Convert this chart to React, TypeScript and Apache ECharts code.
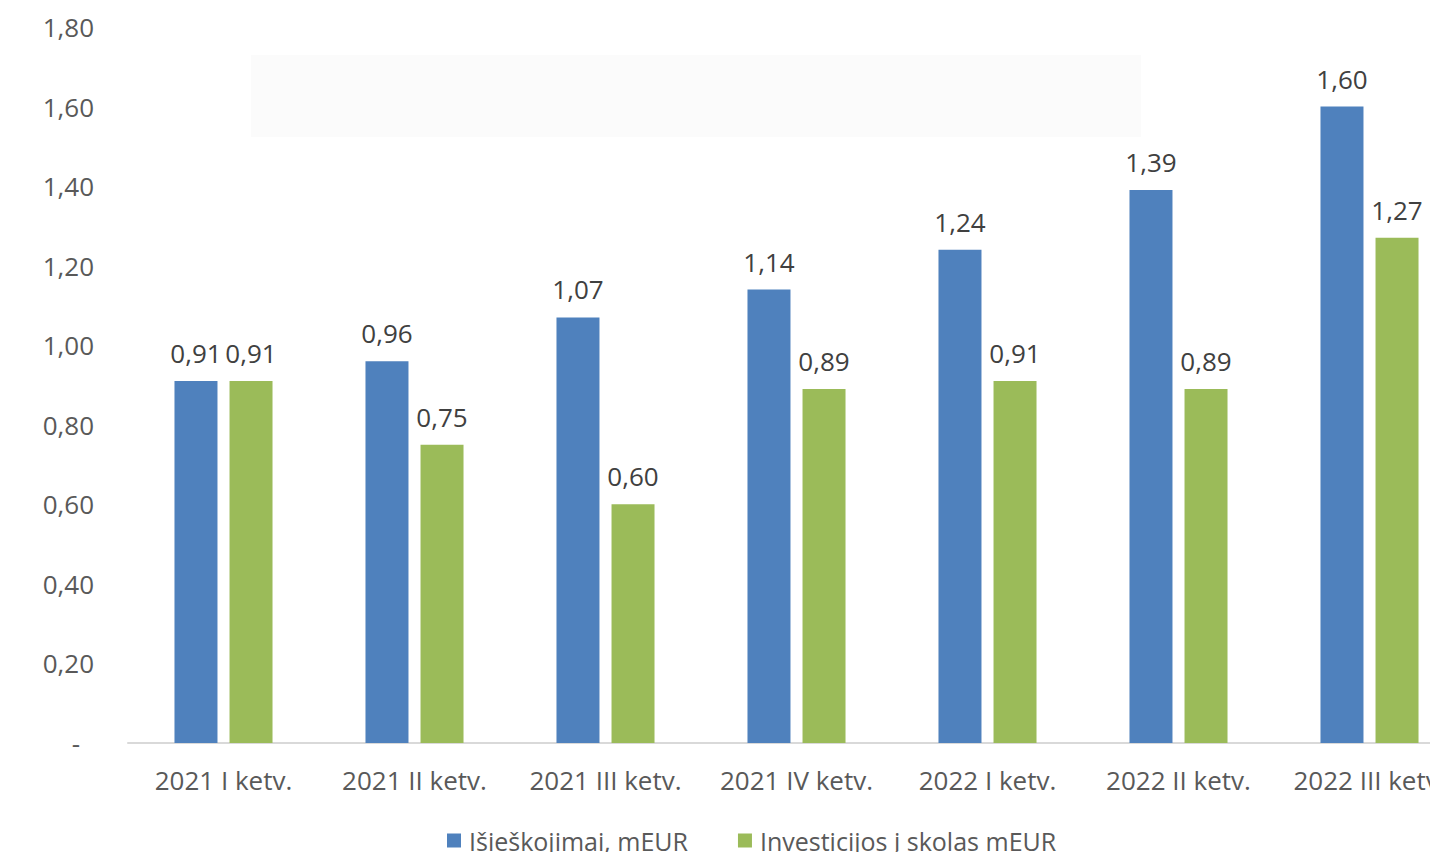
import React, { useEffect, useRef } from "react";
import * as echarts from "echarts";

const categories = [
  "2021 I ketv.",
  "2021 II ketv.",
  "2021 III ketv.",
  "2021 IV ketv.",
  "2022 I ketv.",
  "2022 II ketv.",
  "2022 III ketv.",
];
const seriesNames = ["Išieškojimai, mEUR", "Investicijos į skolas mEUR"];
const recoveries = [0.91, 0.96, 1.07, 1.14, 1.24, 1.39, 1.6];
const investments = [0.91, 0.75, 0.6, 0.89, 0.91, 0.89, 1.27];
const yMin = 0;
const yMax = 1.8;
const yStep = 0.2;

const fmt = (v: number) => v.toFixed(2).replace(".", ",");
const FONT = "'Open Sans', sans-serif";

export default function App() {
  const ref = useRef<HTMLDivElement>(null);
  useEffect(() => {
    if (!ref.current) return;
    const chart = echarts.init(ref.current, null, { renderer: "svg" });
    const labelCfg = {
      show: true,
      position: "top" as const,
      distance: 15,
      color: "#404040",
      fontSize: 26,
      fontFamily: FONT,
      formatter: (p: any) => fmt(p.value),
    };
    chart.setOption({
      animation: false,
      backgroundColor: "#ffffff",
      textStyle: { fontFamily: FONT },
      graphic: [
        {
          type: "rect",
          left: 251,
          top: 55,
          shape: { width: 890, height: 82 },
          style: { fill: "#fbfbfb" },
          z: -10,
          silent: true,
        },
      ],
      grid: { left: 128, width: 1337, top: 27, height: 716, containLabel: false },
      legend: {
        left: 442,
        top: 823,
        itemWidth: 14,
        itemHeight: 14,
        itemGap: 50,
        icon: "rect",
        textStyle: { color: "#595959", fontSize: 25, fontFamily: FONT, padding: [0, 0, 0, 3] },
        data: seriesNames,
      },
      xAxis: {
        type: "category",
        data: categories,
        axisLine: { show: true, lineStyle: { color: "#D9D9D9", width: 2 } },
        axisTick: { show: false },
        axisLabel: { color: "#595959", fontSize: 26, fontFamily: FONT, margin: 24, interval: 0 },
      },
      yAxis: {
        type: "value",
        min: yMin,
        max: yMax,
        interval: yStep,
        axisLine: { show: false },
        axisTick: { show: false },
        splitLine: { show: false },
        axisLabel: {
          color: "#595959",
          fontSize: 26,
          fontFamily: FONT,
          margin: 34,
          formatter: (v: number) => (Math.abs(v) < 1e-9 ? "{d|-}" : fmt(v)),
          rich: { d: { color: "#595959", fontSize: 26, fontFamily: FONT, padding: [0, 14, 0, 0] } },
        },
      },
      series: [
        {
          name: seriesNames[0],
          type: "bar",
          data: recoveries,
          barWidth: 43,
          barGap: "28%",
          itemStyle: { color: "#4F81BD" },
          label: labelCfg,
        },
        {
          name: seriesNames[1],
          type: "bar",
          data: investments,
          barWidth: 43,
          itemStyle: { color: "#9BBB59" },
          label: labelCfg,
        },
      ],
    });
    return () => chart.dispose();
  }, []);
  return (
    <div
      style={{
        position: "fixed",
        left: 0,
        top: 0,
        width: 1430,
        height: 852,
        overflow: "hidden",
        background: "#fff",
      }}
    >
      <div ref={ref} style={{ width: 1500, height: 852 }} />
    </div>
  );
}
